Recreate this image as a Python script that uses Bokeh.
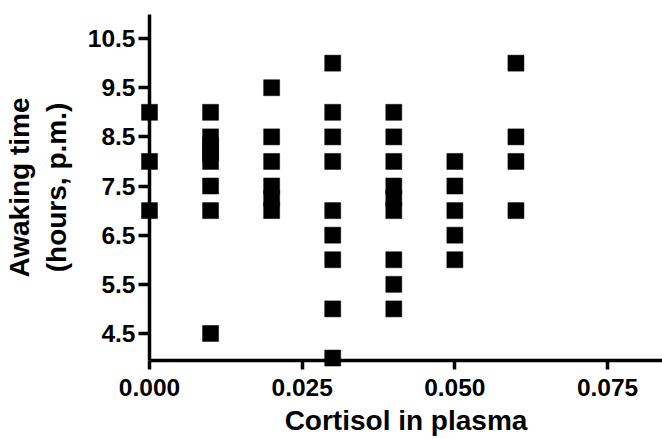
from bokeh.plotting import figure
from bokeh.models import FixedTicker, PrintfTickFormatter, Range1d, Title
from bokeh.embed import file_html
from bokeh.resources import INLINE

# Cortisol level in plasma and the matching awaking times (hours, p.m.)
cortisol = (
    [0.00] * 3
    + [0.01] * 8
    + [0.02] * 6
    + [0.03] * 9
    + [0.04] * 9
    + [0.05] * 5
    + [0.06] * 4
)
awaking = (
    [9.0, 8.0, 7.0]
    + [9.0, 8.5, 8.33, 8.17, 8.0, 7.5, 7.0, 4.5]
    + [9.5, 8.5, 8.0, 7.5, 7.25, 7.0]
    + [10.0, 9.0, 8.5, 8.0, 7.0, 6.5, 6.0, 5.0, 4.0]
    + [9.0, 8.5, 8.0, 7.5, 7.25, 7.0, 6.0, 5.5, 5.0]
    + [8.0, 7.5, 7.0, 6.5, 6.0]
    + [10.0, 8.5, 8.0, 7.0]
)
x_ticks = [0.0, 0.025, 0.05, 0.075]
y_ticks = [4.5, 5.5, 6.5, 7.5, 8.5, 9.5, 10.5]

FONT = "Liberation Sans"

p = figure(
    width=662,
    height=439,
    output_backend="svg",
    toolbar_location=None,
    x_range=Range1d(0.0, 0.084),
    y_range=Range1d(3.95, 10.99),
    min_border_left=148,
    min_border_right=0,
    min_border_top=14,
    min_border_bottom=79,
)
p.outline_line_color = None
p.xgrid.visible = False
p.ygrid.visible = False
p.background_fill_color = "white"
p.border_fill_color = "white"

# drawn on the overlay level so squares sitting on an axis are not cut off
p.scatter(cortisol, awaking, marker="square", size=16,
          fill_color="black", line_color="black", line_width=0.5,
          level="overlay")

for ax in (p.xaxis[0], p.yaxis[0]):
    ax.axis_line_width = 3.5
    ax.axis_line_color = "black"
    ax.major_tick_line_width = 3.5
    ax.major_tick_line_color = "black"
    ax.major_tick_in = 0
    ax.minor_tick_line_color = None
    ax.major_label_text_font = FONT
    ax.major_label_text_font_style = "bold"
    ax.major_label_text_font_size = "24.5px"
    ax.major_label_text_color = "black"
    ax.axis_label_text_font = FONT
    ax.axis_label_text_font_style = "bold"
    ax.axis_label_text_font_size = "28px"
    ax.axis_label_text_color = "black"

xa = p.xaxis[0]
xa.ticker = FixedTicker(ticks=x_ticks)
xa.formatter = PrintfTickFormatter(format="%.3f")
xa.major_tick_out = 9
xa.major_label_standoff = 9

ya = p.yaxis[0]
ya.ticker = FixedTicker(ticks=y_ticks)
ya.formatter = PrintfTickFormatter(format="%.1f")
ya.major_tick_out = 11
ya.major_label_standoff = 3
ya.axis_label = "Awaking time\n(hours, p.m.)"
ya.axis_label_standoff = 13

# x-axis title as a panel below the axis
x_title = Title(
    text="Cortisol in plasma", align="center", standoff=8, offset=0,
    text_font=FONT, text_font_style="bold", text_font_size="28px",
    text_color="black",
)
p.add_layout(x_title, "below")

open("out.html", "w").write(file_html(p, INLINE))
